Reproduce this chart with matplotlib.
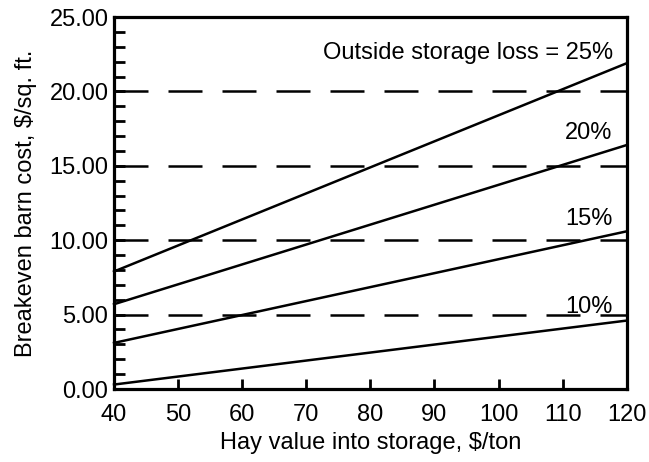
import matplotlib.pyplot as plt
from matplotlib.ticker import MultipleLocator

# hay value endpoints, $/ton
hay_value = [40, 120]

# breakeven barn cost, $/sq. ft.
loss_10 = [0.3, 4.6]
loss_15 = [3.1, 10.6]
loss_20 = [5.7, 16.4]
loss_25 = [7.9, 21.9]

series = [loss_10, loss_15, loss_20, loss_25]
labels = ["10%", "15%", "20%", "Outside storage loss = 25%"]
label_y = [5.5, 11.4, 17.2, 22.6]

y_ticks = [0, 5, 10, 15, 20, 25]
x_ticks = [40, 50, 60, 70, 80, 90, 100, 110, 120]
dashed_levels = [5, 10, 15, 20]

plt.rcParams['font.family'] = ['Liberation Sans', 'DejaVu Sans']

fig = plt.figure(figsize=(6.49, 4.62), dpi=100)
ax = fig.add_axes([0.1757, 0.158, 0.790, 0.805])

# dashed reference lines across the plot
for level in dashed_levels:
    ax.plot(hay_value, [level, level], color="black", lw=1.8,
            linestyle=(0, (13.6, 8.0)), zorder=1)

for values in series:
    ax.plot(hay_value, values, color="black", lw=1.8, clip_on=False, zorder=2)

for text, y in zip(labels, label_y):
    ax.text(117.8, y, text, ha="right", va="center", fontsize=17)

ax.set_xlim(40, 120)
ax.set_ylim(0, 25)
ax.set_xticks(x_ticks)
ax.set_yticks(y_ticks)
ax.set_yticklabels([f"{t:.2f}" for t in y_ticks])
ax.yaxis.set_minor_locator(MultipleLocator(1))

ax.tick_params(axis="both", which="both", direction="in", width=2, labelsize=17)
ax.tick_params(axis="y", which="major", length=8, pad=4)
ax.tick_params(axis="y", which="minor", length=8)
ax.tick_params(axis="x", which="major", length=7, pad=11)

for spine in ax.spines.values():
    spine.set_linewidth(2.3)

ax.set_xlabel("Hay value into storage, $/ton", fontsize=17, labelpad=4)
ax.set_ylabel("Breakeven barn cost, $/sq. ft.", fontsize=17, labelpad=9)

fig.savefig("out.png", dpi=100)
